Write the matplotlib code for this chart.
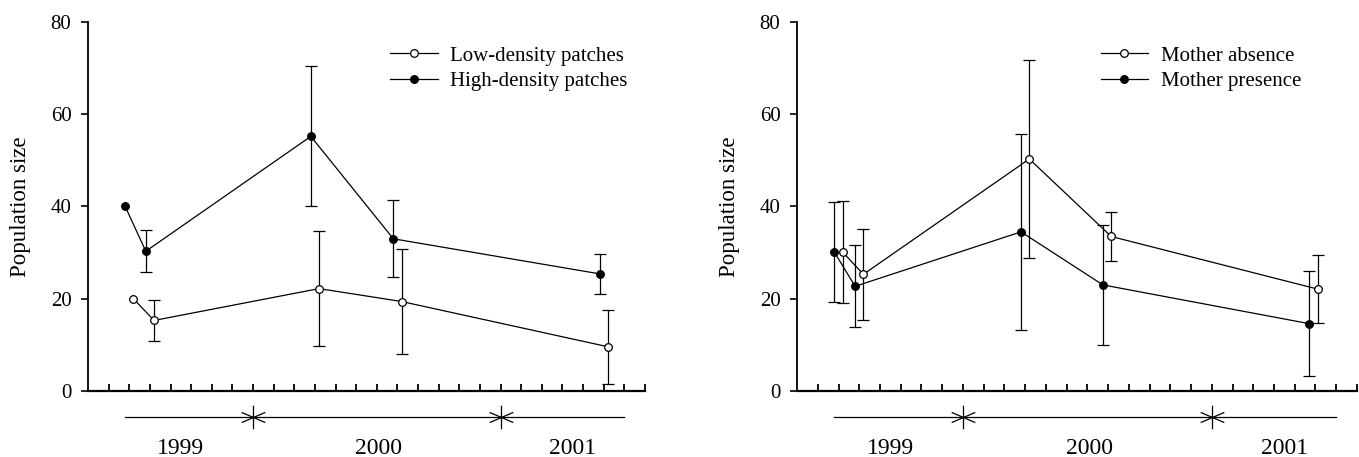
import numpy as np
import matplotlib
matplotlib.use('Agg')
import matplotlib.pyplot as plt
from matplotlib.path import Path
from matplotlib.transforms import blended_transform_factory

plt.rcParams['font.family'] = ['Liberation Serif', 'DejaVu Serif']

# x positions are in months counted from Jan 1999 (1 = Jan 1999)
# left panel: patch density
x_low = [6.2, 7.2, 15.2, 19.2, 29.2]
y_low = [20.0, 15.3, 22.2, 19.4, 9.6]
e_low = [np.nan, 4.4, 12.5, 11.4, 8.0]

x_high = [5.8, 6.8, 14.8, 18.8, 28.8]
y_high = [40.0, 30.3, 55.2, 33.0, 25.4]
e_high = [np.nan, 4.5, 15.2, 8.3, 4.3]

# right panel: mother
x_abs = [6.2, 7.2, 15.2, 19.15, 29.1]
y_abs = [30.1, 25.3, 50.3, 33.5, 22.1]
e_abs = [11.0, 9.9, 21.5, 5.3, 7.4]

x_pres = [5.8, 6.8, 14.8, 18.75, 28.7]
y_pres = [30.1, 22.7, 34.5, 23.0, 14.6]
e_pres = [10.9, 8.9, 21.3, 13.0, 11.4]

years = ['1999', '2000', '2001']
year_pos = [8.5, 18.1, 27.5]
year_breaks = [12, 24]

# marker for the year separators: vertical bar with a flat cross
sep_marker = Path([(0, -1), (0, 1), (-1, -0.43), (1, 0.43), (-1, 0.43), (1, -0.43)],
                  [Path.MOVETO, Path.LINETO, Path.MOVETO, Path.LINETO, Path.MOVETO, Path.LINETO])


def panel(ax, series, labels):
    for (x, y, e), lab, fc in zip(series, labels, ['white', 'black']):
        x = np.array(x); y = np.array(y); e = np.array(e)
        ax.plot(x, y, '-', color='black', lw=0.9, marker='o', markersize=5.5,
                markerfacecolor=fc, markeredgecolor='black', markeredgewidth=0.9,
                label=lab, zorder=3)
        m = ~np.isnan(e)
        ax.errorbar(x[m], y[m], yerr=e[m], fmt='none', ecolor='black',
                    elinewidth=0.9, capsize=4, capthick=0.9, zorder=2)

    ax.set_xlim(4, 31)
    ax.set_ylim(0, 80)
    ax.set_yticks([0, 20, 40, 60, 80])
    ax.set_xticks(np.arange(5, 32))
    ax.set_xticklabels([])
    ax.spines['top'].set_visible(False)
    ax.spines['right'].set_visible(False)
    ax.spines['bottom'].set_linewidth(1.6)
    ax.spines['left'].set_linewidth(1.3)
    ax.tick_params(axis='x', direction='in', length=5, width=1.3)
    ax.tick_params(axis='y', direction='out', length=5, width=1.2, labelsize=15, pad=7)
    ax.set_ylabel('Population size', fontsize=16.5, va='center')
    ax.yaxis.set_label_coords(-0.121, 0.5)

    ax.legend(loc='upper left', bbox_to_anchor=(0.542, 0.935), frameon=False,
              fontsize=15, borderpad=0, borderaxespad=0, handlelength=2.3,
              handletextpad=0.6, labelspacing=0.3)

    # year axis below the plot
    tr = blended_transform_factory(ax.transData, ax.transAxes)
    ax.plot([5.8, 30.0], [-0.0705, -0.0705], color='black', lw=0.9,
            transform=tr, clip_on=False)
    ax.plot(year_breaks, [-0.0705] * len(year_breaks), linestyle='none',
            marker=sep_marker, markersize=17, markeredgewidth=0.9,
            color='black', transform=tr, clip_on=False)
    for yr, xp in zip(years, year_pos):
        ax.text(xp, -0.17, yr, transform=tr, ha='center', va='baseline', fontsize=17)


fig = plt.figure(figsize=(13.59, 4.57), dpi=100)
ax1 = fig.add_axes([0.0648, 0.1444, 0.4098, 0.8075])
ax2 = fig.add_axes([0.5865, 0.1444, 0.4120, 0.8075])

panel(ax1, [(x_low, y_low, e_low), (x_high, y_high, e_high)],
      ['Low-density patches', 'High-density patches'])
panel(ax2, [(x_abs, y_abs, e_abs), (x_pres, y_pres, e_pres)],
      ['Mother absence', 'Mother presence'])

fig.savefig('out.png', dpi=100)
